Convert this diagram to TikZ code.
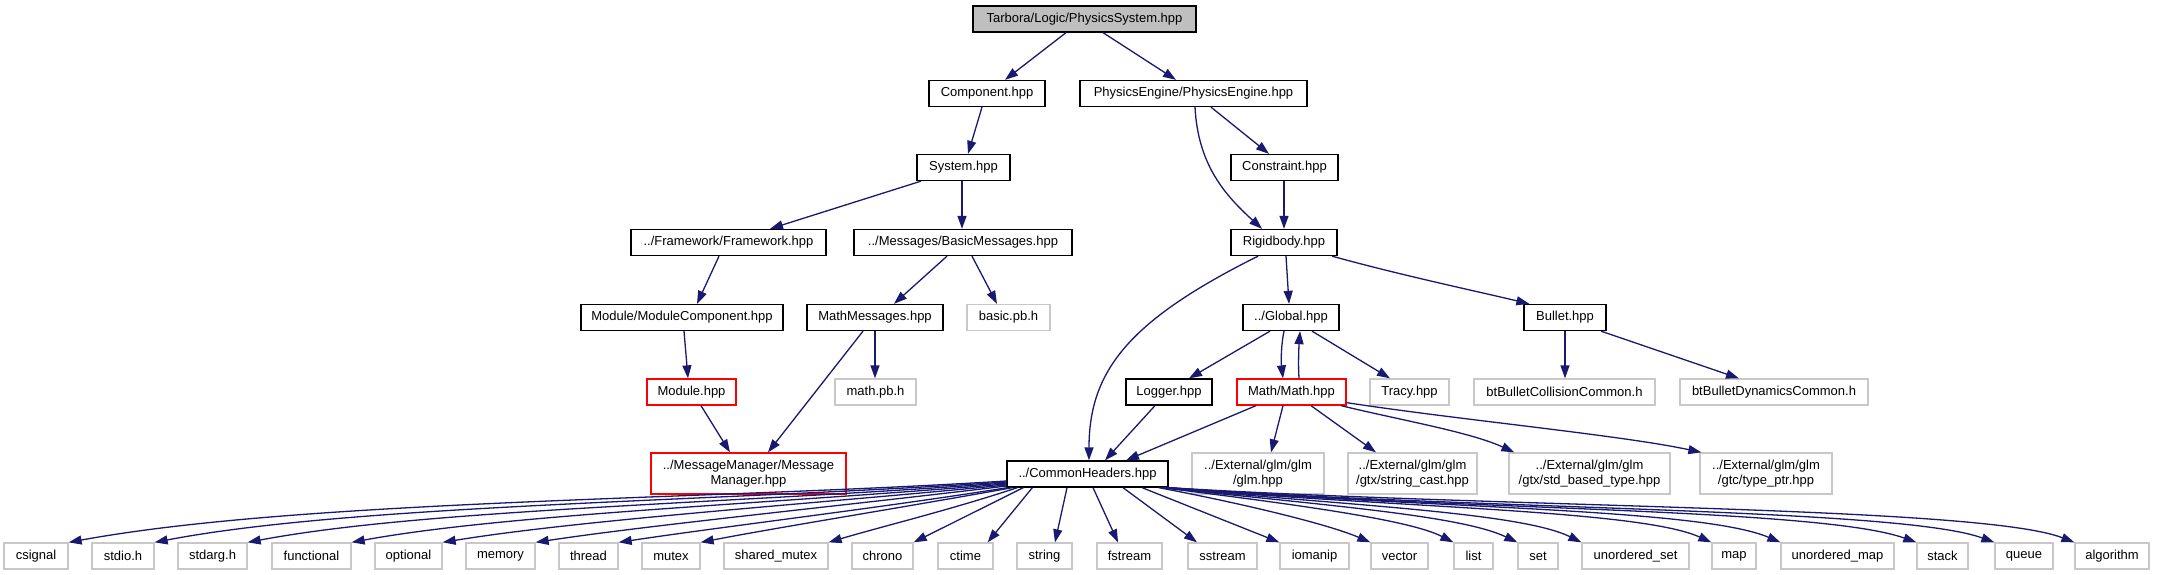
\documentclass[tikz,border=0pt]{standalone}
\usepackage{fontspec}
\setmainfont{Liberation Sans}
\usetikzlibrary{arrows.meta}
\definecolor{edgeblue}{HTML}{191970}
\definecolor{rootfill}{HTML}{BFBFBF}
\definecolor{ngray}{HTML}{C8C8C8}
\begin{document}
\begin{tikzpicture}[x=1pt,y=-1pt,
  base/.style={draw, line width=1.3pt, inner sep=0pt, minimum height=26pt, font=\fontsize{13}{14.5}\selectfont, align=center},
  nb/.style={base, draw=black},
  ng/.style={base, draw=ngray},
  nr/.style={base, draw=red},
  lnk/.style={draw=edgeblue, line width=1.3pt, -{Triangle[length=13pt,width=9pt]}}]
\useasboundingbox[fill=white] (0,0) rectangle (2157,575);

% row 0
\node[nb, fill=rootfill, minimum width=223] (root) at (1084.5,19) {Tarbora/Logic/PhysicsSystem.hpp};
% row 1
\node[nb, minimum width=116] (comp) at (987,93.5) {Component.hpp};
\node[nb, minimum width=227] (pe) at (1193.5,93.5) {PhysicsEngine/PhysicsEngine.hpp};
% row 2
\node[nb, minimum width=93] (sys) at (963.5,167.5) {System.hpp};
\node[nb, minimum width=107] (cons) at (1284.5,167.5) {Constraint.hpp};
% row 3
\node[nb, minimum width=195] (fw) at (728.5,242.5) {../Framework/Framework.hpp};
\node[nb, minimum width=218] (bm) at (963,242.5) {../Messages/BasicMessages.hpp};
\node[nb, minimum width=106] (rb) at (1284,242.5) {Rigidbody.hpp};
% row 4
\node[nb, minimum width=202] (mc) at (682,317.5) {Module/ModuleComponent.hpp};
\node[nb, minimum width=136] (mm) at (875,317.5) {MathMessages.hpp};
\node[ng, minimum width=83] (bpb) at (1008.5,317.5) {basic.pb.h};
\node[nb, minimum width=96] (glob) at (1291,317.5) {../Global.hpp};
\node[nb, minimum width=82] (bul) at (1565,317.5) {Bullet.hpp};
% row 5
\node[nr, minimum width=89] (mod) at (691.5,392) {Module.hpp};
\node[ng, minimum width=81] (mpb) at (875.5,392) {math.pb.h};
\node[nb, minimum width=86] (log) at (1169,392) {Logger.hpp};
\node[nr, minimum width=109] (math) at (1291.5,392) {Math/Math.hpp};
\node[ng, minimum width=79] (tracy) at (1409.5,392) {Tracy.hpp};
\node[ng, minimum width=181] (btc) at (1564.5,392) {btBulletCollisionCommon.h};
\node[ng, minimum width=188] (btd) at (1774,392) {btBulletDynamicsCommon.h};
% row 6
\node[nr, minimum width=195, minimum height=41] (msgm) at (748.5,473.5) {../MessageManager/Message\\Manager.hpp};
\node[nb, minimum width=161] (ch) at (1087.5,474) {../CommonHeaders.hpp};
\node[ng, minimum width=132, minimum height=41] (glm) at (1258,473.5) {../External/glm/glm\\/glm.hpp};
\node[ng, minimum width=129, minimum height=41] (sc) at (1412.5,473.5) {../External/glm/glm\\/gtx/string\_cast.hpp};
\node[ng, minimum width=161, minimum height=41] (sbt) at (1589.5,473.5) {../External/glm/glm\\/gtx/std\_based\_type.hpp};
\node[ng, minimum width=132, minimum height=41] (tp) at (1766,473.5) {../External/glm/glm\\/gtc/type\_ptr.hpp};
% row 7
\node[ng, minimum width=64] (csignal) at (36,556) {csignal};
\node[ng, minimum width=62] (stdio) at (123,556) {stdio.h};
\node[ng, minimum width=69] (stdarg) at (212.5,556) {stdarg.h};
\node[ng, minimum width=79] (functional) at (311.5,556) {functional};
\node[ng, minimum width=67] (optional) at (408.5,556) {optional};
\node[ng, minimum width=69] (memory) at (500.5,556) {memory};
\node[ng, minimum width=59] (thread) at (588.5,556) {thread};
\node[ng, minimum width=58] (mutex) at (671,556) {mutex};
\node[ng, minimum width=104] (smutex) at (776,556) {shared\_mutex};
\node[ng, minimum width=61] (chrono) at (882.5,556) {chrono};
\node[ng, minimum width=55] (ctime) at (965.5,556) {ctime};
\node[ng, minimum width=55] (string) at (1044.5,556) {string};
\node[ng, minimum width=65] (fstream) at (1129.5,556) {fstream};
\node[ng, minimum width=69] (sstream) at (1222.5,556) {sstream};
\node[ng, minimum width=69] (iomanip) at (1314.5,556) {iomanip};
\node[ng, minimum width=57] (vector) at (1399.5,556) {vector};
\node[ng, minimum width=39] (list) at (1473.5,556) {list};
\node[ng, minimum width=40] (set) at (1538,556) {set};
\node[ng, minimum width=107] (uset) at (1635.5,556) {unordered\_set};
\node[ng, minimum width=44] (map) at (1734,556) {map};
\node[ng, minimum width=113] (umap) at (1837.5,556) {unordered\_map};
\node[ng, minimum width=51] (stack) at (1942.5,556) {stack};
\node[ng, minimum width=58] (queue) at (2024,556) {queue};
\node[ng, minimum width=74] (algorithm) at (2112,556) {algorithm};

% upper edges
\draw[lnk] ([xshift=-18.5]root.south) -- ([xshift=18]comp.north);
\draw[lnk] ([xshift=18.5]root.south) -- ([xshift=-17.5]pe.north);
\draw[lnk] ([xshift=-5]comp.south) -- ([xshift=4.5]sys.north);
\draw[lnk] ([xshift=-42.5]sys.south) -- ([xshift=41.5]fw.north);
\draw[lnk] ([xshift=-1.5]sys.south) -- ([xshift=-1]bm.north);
\draw[lnk] ([xshift=-9.5]fw.south) -- ([xshift=15]mc.north);
\draw[lnk] ([xshift=-16]bm.south) -- ([xshift=19]mm.north);
\draw[lnk] ([xshift=9]bm.south) -- ([xshift=-11.5]bpb.north);
\draw[lnk] ([xshift=2]mc.south) -- ([xshift=-3.5]mod.north);
\draw[lnk] ([xshift=9.5]mod.south) -- ([xshift=-18.5]msgm.north);
\draw[lnk] ([xshift=-12]mm.south) -- ([xshift=19.5]msgm.north);
\draw[lnk] (mm.south) -- ([xshift=-0.5]mpb.north);
\draw[lnk] ([xshift=17.5]pe.south) -- ([xshift=-15.5]cons.north);
\draw[lnk] ([xshift=1.5]pe.south) .. controls (1198,165) and (1225,195) .. ([xshift=-22]rb.north);
\draw[lnk] ([xshift=-0.5]cons.south) -- (rb.north);
\draw[lnk] ([xshift=-26]rb.south) .. controls (1130,320) and (1089,370) .. ([xshift=1.5]ch.north);
\draw[lnk] ([xshift=2]rb.south) -- ([xshift=-2]glob.north);
\draw[lnk] ([xshift=48]rb.south) .. controls (1400,275) and (1480,292) .. ([xshift=6]bul.north west);
\draw[lnk] ([xshift=-21]glob.south) -- ([xshift=20]log.north);
\draw[lnk] ([xshift=-7]glob.south) .. controls (1281,345) and (1281,362) .. ([xshift=-8.5]math.north);
\draw[lnk] ([xshift=7.5]math.north) .. controls (1298,362) and (1299,345) .. ([xshift=9]glob.south);
\draw[lnk] ([xshift=21]glob.south) -- ([xshift=-19.5]tracy.north);
\draw[lnk] (bul.south) -- ([xshift=0.5]btc.north);
\draw[lnk] ([xshift=36]bul.south) -- ([xshift=-35]btd.north);
\draw[lnk] ([xshift=-14]log.south) -- ([xshift=17.5]ch.north);
\draw[lnk] ([xshift=-35.5]math.south) -- ([xshift=38.5]ch.north);
\draw[lnk] ([xshift=-8.5]math.south) -- ([xshift=13]glm.north);
\draw[lnk] ([xshift=19.5]math.south) -- ([xshift=-36.5]sc.north);
\draw[lnk] ([xshift=49.5]math.south) .. controls (1400,420) and (1470,432) .. ([xshift=6]sbt.north west);
\draw[lnk] ([yshift=3]math.south east) .. controls (1460,420) and (1620,435) .. ([xshift=2]tp.north west);

% CommonHeaders fan, left
\draw[lnk] ([yshift=-7]ch.west) .. controls (700,500) and (300,500) .. (csignal.north east);
\draw[lnk] ([yshift=-8]ch.west) .. controls (700,502) and (350,505) .. (stdio.north east);
\draw[lnk] ([yshift=-9]ch.west) .. controls (700,505) and (420,510) .. (stdarg.north east);
\draw[lnk] ([yshift=-10]ch.west) .. controls (750,505) and (500,515) .. (functional.north east);
\draw[lnk] ([yshift=-11]ch.west) .. controls (800,505) and (580,520) .. (optional.north east);
\draw[lnk] ([yshift=-12]ch.west) .. controls (850,505) and (650,525) .. (memory.north east);
\draw[lnk] ([xshift=1]ch.south west) .. controls (880,508) and (720,527) .. (thread.north east);
\draw[lnk] ([xshift=6]ch.south west) .. controls (900,508) and (780,527) .. (mutex.north east);
\draw[lnk] ([xshift=11]ch.south west) .. controls (950,510) and (880,527) .. (smutex.north east);
\draw[lnk] ([xshift=17]ch.south west) -- (chrono.north east);
\draw[lnk] ([xshift=26]ch.south west) -- ([xshift=-6]ctime.north east);
\draw[lnk] ([xshift=-20.5]ch.south) -- ([xshift=10.5]string.north);
\draw[lnk] ([xshift=5.5]ch.south) -- ([xshift=-11.5]fstream.north);
\draw[lnk] ([xshift=35.5]ch.south) -- ([xshift=-25.5]sstream.north);
\draw[lnk] ([xshift=54.5]ch.south) -- (iomanip.north west);
% CommonHeaders fan, right
\draw[lnk] ([xshift=-10]ch.south east) .. controls (1250,505) and (1330,525) .. (vector.north west);
\draw[lnk] ([xshift=-7]ch.south east) .. controls (1300,505) and (1410,520) .. (list.north west);
\draw[lnk] ([xshift=-5]ch.south east) .. controls (1320,505) and (1460,515) .. (set.north west);
\draw[lnk] ([xshift=-4]ch.south east) .. controls (1340,505) and (1520,512) .. (uset.north west);
\draw[lnk] ([xshift=-3]ch.south east) .. controls (1400,508) and (1640,510) .. (map.north west);
\draw[lnk] ([xshift=-2]ch.south east) .. controls (1420,508) and (1700,508) .. (umap.north west);
\draw[lnk] ([xshift=-1]ch.south east) .. controls (1450,510) and (1820,508) .. (stack.north west);
\draw[lnk] ([xshift=-1]ch.south east) .. controls (1480,510) and (1900,508) .. (queue.north west);
\draw[lnk] (ch.south east) .. controls (1500,508) and (1980,506) .. (algorithm.north west);
\end{tikzpicture}
\end{document}
